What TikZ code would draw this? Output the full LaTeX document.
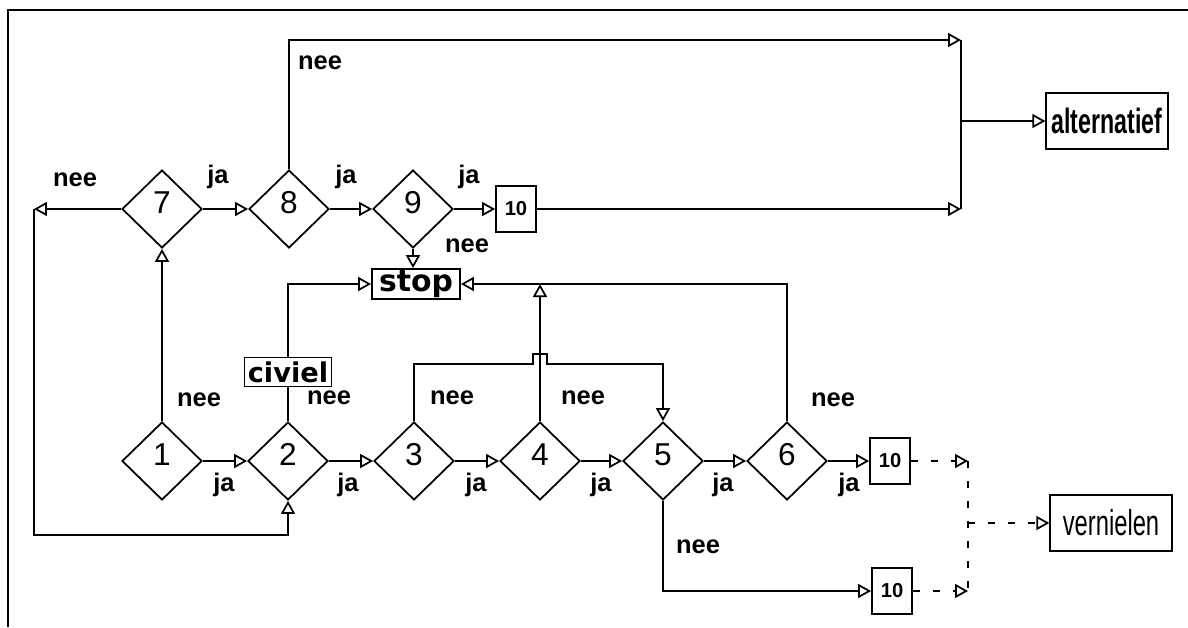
\documentclass[tikz,border=0pt]{standalone}
\usepackage{fontspec}
\setmainfont{Liberation Sans}
\newfontfamily\wideface{DejaVu Sans}
\newfontfamily\narrowface[FakeStretch=0.66]{Liberation Sans}
\usetikzlibrary{shapes.geometric, arrows.meta, positioning}

\begin{document}
\begin{tikzpicture}[
    x=0.02cm, y=-0.02cm,
    line width=1pt,
    dec/.style={diamond, draw, minimum width=1.6cm, minimum height=1.56cm, inner sep=0pt, text depth=0.26cm, font=\fontsize{18}{20}\selectfont},
    tenbox/.style={rectangle, draw, minimum width=0.8cm, minimum height=0.93cm, inner sep=0pt, font=\fontsize{11.5}{13}\selectfont\bfseries},
    wbox/.style={rectangle, draw, inner sep=0pt, font=\wideface\bfseries\fontsize{15.5}{17}\selectfont},
    nbox/.style={rectangle, draw, inner sep=0pt, minimum width=2.43cm, minimum height=1.12cm},
    lbl/.style={inner sep=0pt, font=\fontsize{14.5}{16}\selectfont\bfseries},
    arrow/.style={-{Triangle[open, length=2.6mm, width=2.8mm]}},
    dashline/.style={dash pattern=on 1.4mm off 2.6mm},
    dasharrow/.style={arrow, dashline},
]
\useasboundingbox (0,0) rectangle (1188,627);

% frame
\draw[line width=1.4pt] (1188,10) -- (8,10) -- (8,627);

% upper row
\node[dec] (d7) at (162,209) {7};
\node[dec] (d8) at (289,209) {8};
\node[dec] (d9) at (413,209) {9};
\node[tenbox] (t10) at (516,209) {10};

% stop and civiel
\node[wbox, minimum width=1.76cm, minimum height=0.6cm, font=\wideface\bfseries\fontsize{17}{19}\selectfont] (stop) at (416,284) {stop};
\node[wbox, minimum width=1.74cm, minimum height=0.58cm] (civ) at (288,372) {civiel};

% lower row
\node[dec] (d1) at (162,461) {1};
\node[dec] (d2) at (288,461) {2};
\node[dec] (d3) at (414,461) {3};
\node[dec] (d4) at (540,461) {4};
\node[dec] (d5) at (663,461) {5};
\node[dec] (d6) at (787,461) {6};
\node[tenbox] (r10) at (890,461) {10};
\node[tenbox] (l10) at (892,591) {10};

% outcomes
\node[nbox, font=\narrowface\bfseries\fontsize{20}{22}\selectfont] (alt) at (1107,121) {alternatief};
\node[nbox, font=\narrowface\fontsize{20.5}{22}\selectfont] (vern) at (1111,523) {vernielen};

% helper points
\coordinate (cL) at (34,209);
\coordinate (cB) at (34,535);
\coordinate (busT) at (961,40);
\coordinate (busB) at (961,209);
\coordinate (hop) at (533,364);
\coordinate (dT) at (968,461);
\coordinate (dB) at (968,591);

% labels
\node[lbl] (n7) at (75,180) {nee};
\node[lbl] (j7) at (218,177) {ja};
\node[lbl] (j8) at (346,177) {ja};
\node[lbl] (j9) at (469,177) {ja};
\node[lbl] (n8) at (320,63) {nee};
\node[lbl] (n9) at (467,246) {nee};
\node[lbl] (n1) at (199,400) {nee};
\node[lbl] (n2) at (329,398) {nee};
\node[lbl] (n3) at (452,398) {nee};
\node[lbl] (n4) at (583,398) {nee};
\node[lbl] (n6) at (833,400) {nee};
\node[lbl] (n5) at (698,547) {nee};
\node[lbl] (j1) at (224,485) {ja};
\node[lbl] (j2) at (348,485) {ja};
\node[lbl] (j3) at (476,485) {ja};
\node[lbl] (j4) at (601,485) {ja};
\node[lbl] (j5) at (723,485) {ja};
\node[lbl] (j6) at (849,485) {ja};

% upper row connections
\draw[arrow] (d7.west) -- (cL);
\draw[arrow] (cL) -- (cB) -| (d2.south);
\draw[arrow] (d1.north) -- (d7.south);
\draw[arrow] (d7.east) -- (d8.west);
\draw[arrow] (d8.east) -- (d9.west);
\draw[arrow] (d9.east) -- (t10.west);
\draw[arrow] (d8.north) |- (busT);
\draw[arrow] (t10.east) -- (busB);
\draw (busT) -- (busB);
\draw[arrow] (busT |- alt.west) -- (alt.west);
\draw[arrow] (d9.south) -- (d9.south |- stop.north);

% towards stop
\draw (d2.north) -- (civ.south);
\draw[arrow] (civ.north) |- (stop.west);
\draw[arrow] (d6.north) |- (stop.east);
\draw[arrow] (d4.north) -- (d4.north |- stop.east);
\draw[arrow] (d3.north) |- (hop) -- ++(0,-10) -- ++(14,0) -- ++(0,10) -| (d5.north);

% lower row connections
\draw[arrow] (d1.east) -- (d2.west);
\draw[arrow] (d2.east) -- (d3.west);
\draw[arrow] (d3.east) -- (d4.west);
\draw[arrow] (d4.east) -- (d5.west);
\draw[arrow] (d5.east) -- (d6.west);
\draw[arrow] (d6.east) -- (r10.west);
\draw[arrow] (d5.south) |- (l10.west);

% to vernielen
\draw[dasharrow] (r10.east) -- (dT);
\draw[dasharrow] (l10.east) -- (dB);
\draw[dashline] (dT) -- (dB);
\draw[dasharrow] (dT |- vern.west) -- (vern.west);

\end{tikzpicture}
\end{document}
